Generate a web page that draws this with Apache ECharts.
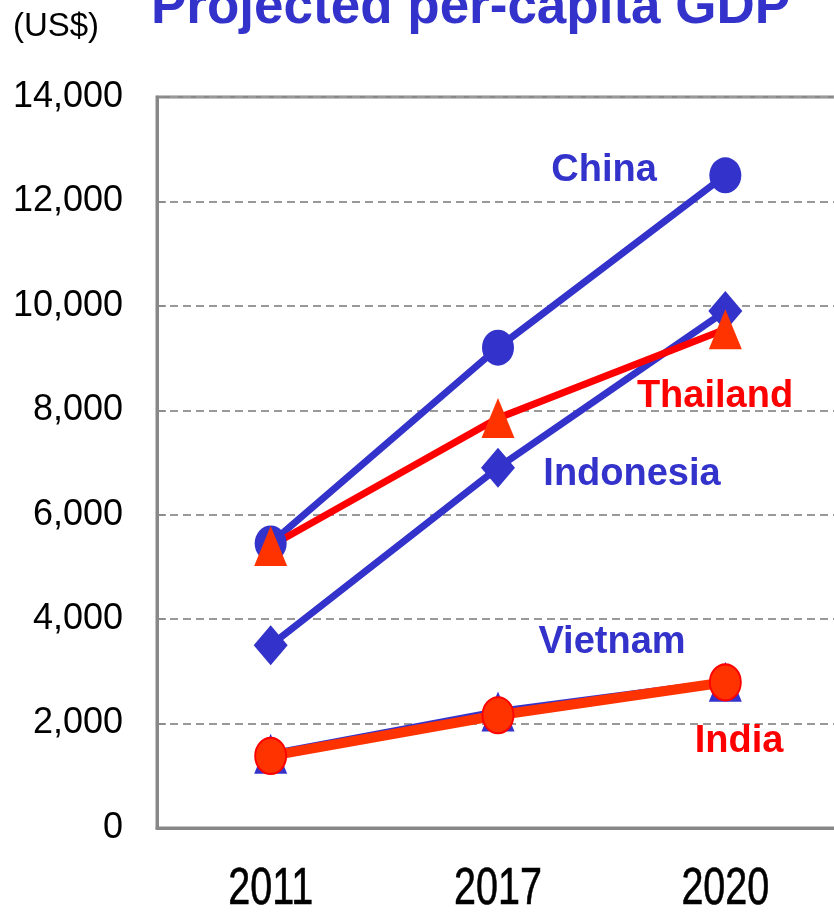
<!DOCTYPE html>
<html>
<head>
<meta charset="utf-8">
<script src="https://cdn.jsdelivr.net/npm/echarts@6/dist/echarts.min.js"></script>
<style>
  html, body { margin: 0; padding: 0; background: #fff; }
  #chart { width: 834px; height: 912px; }
</style>
</head>
<body>
<div id="chart"></div>
<script>
// Projected per-capita GDP (US$)
const years = ['2011', '2017', '2020'];
const china = [5450, 9200, 12500];
const indonesia = [3500, 6900, 9900];
const thailand = [5400, 7850, 9550];
const vietnam = [1420, 2230, 2800];
const india = [1380, 2160, 2790];

const BLUE = '#3333CC';
const RED = '#FF0000';
const ORANGE = '#FF3300';
const AXIS = '#888888';

const chart = echarts.init(document.getElementById('chart'), null, { renderer: 'canvas' });

const labelFont = 'bold 38px "Liberation Sans", Arial, sans-serif';

function tag(text, x, y, color) {
  return {
    type: 'text', x: x, y: y, z: 100,
    style: { text: text, font: labelFont, fill: color, align: 'center', verticalAlign: 'middle' }
  };
}

chart.setOption({
  animation: false,
  backgroundColor: '#ffffff',
  grid: {
    left: 157, top: 97, width: 682, height: 731,
    containLabel: false, outerBoundsMode: 'none',
    show: true, borderColor: AXIS, borderWidth: 3, backgroundColor: 'transparent'
  },
  xAxis: {
    type: 'category',
    data: years,
    boundaryGap: true,
    axisLine: { lineStyle: { color: AXIS, width: 3 } },
    axisTick: { inside: true, alignWithLabel: true, length: 14, lineStyle: { color: AXIS, width: 3 } },
    // year labels are drawn below as condensed text at the axis positions
    axisLabel: { show: false },
    splitLine: { show: false }
  },
  yAxis: {
    type: 'value',
    min: 0, max: 14000, interval: 2000,
    axisLine: { show: true, lineStyle: { color: AXIS, width: 3 } },
    axisTick: { show: true, inside: true, length: 9, lineStyle: { color: AXIS, width: 1.5 } },
    axisLabel: {
      margin: 34, color: '#000',
      fontFamily: '"Liberation Sans", Arial, sans-serif',
      fontSize: 36,
      formatter: v => v.toLocaleString('en-US')
    },
    splitLine: { show: true, lineStyle: { color: '#999', width: 2, type: [8, 5] } }
  },
  series: [
    {
      name: 'China', type: 'line', data: china,
      lineStyle: { color: BLUE, width: 7 },
      symbol: 'circle', symbolSize: [32, 36],
      itemStyle: { color: BLUE }
    },
    {
      name: 'Indonesia', type: 'line', data: indonesia,
      lineStyle: { color: BLUE, width: 7 },
      symbol: 'diamond', symbolSize: [34, 40],
      itemStyle: { color: BLUE }
    },
    {
      name: 'Thailand', type: 'line', data: thailand,
      lineStyle: { color: RED, width: 7 },
      symbol: 'triangle', symbolSize: [33, 40],
      itemStyle: { color: ORANGE }
    },
    {
      name: 'Vietnam', type: 'line', data: vietnam,
      lineStyle: { color: BLUE, width: 7 },
      symbol: 'triangle', symbolSize: [33, 40],
      itemStyle: { color: BLUE }
    },
    {
      name: 'India', type: 'line', data: india,
      lineStyle: { color: ORANGE, width: 10 },
      symbol: 'circle', symbolSize: [31, 36],
      itemStyle: { color: ORANGE, borderColor: RED, borderWidth: 2 }
    }
  ]
});

// Category labels: narrow tall digits, placed at each category's pixel position
const yearLabels = years.map(y => {
  const px = chart.convertToPixel({ xAxisIndex: 0 }, y);
  const base = chart.convertToPixel({ yAxisIndex: 0 }, 0);
  return {
    type: 'text', x: px, y: base + 62, z: 100, scaleX: 0.76, originX: 0, originY: 0,
    style: {
      text: y, font: '52px "Liberation Sans", Arial, sans-serif',
      fill: '#000', stroke: '#000', lineWidth: 0.6,
      align: 'center', verticalAlign: 'middle'
    }
  };
});

chart.setOption({
  graphic: [
    {
      type: 'text', x: 151, y: 35, z: 100,
      style: {
        text: 'Projected per-capita GDP',
        font: 'bold 53px "Liberation Sans", Arial, sans-serif',
        fill: BLUE, align: 'left', verticalAlign: 'bottom'
      }
    },
    {
      type: 'text', x: 56, y: 27, z: 100,
      style: {
        text: '(US$)',
        font: '33px "Liberation Sans", Arial, sans-serif',
        fill: '#000', align: 'center', verticalAlign: 'middle'
      }
    },
    tag('China', 604, 171, BLUE),
    tag('Thailand', 715, 397, RED),
    tag('Indonesia', 632, 475, BLUE),
    tag('Vietnam', 612, 643, BLUE),
    tag('India', 739, 742, RED)
  ].concat(yearLabels)
});
</script>
</body>
</html>
